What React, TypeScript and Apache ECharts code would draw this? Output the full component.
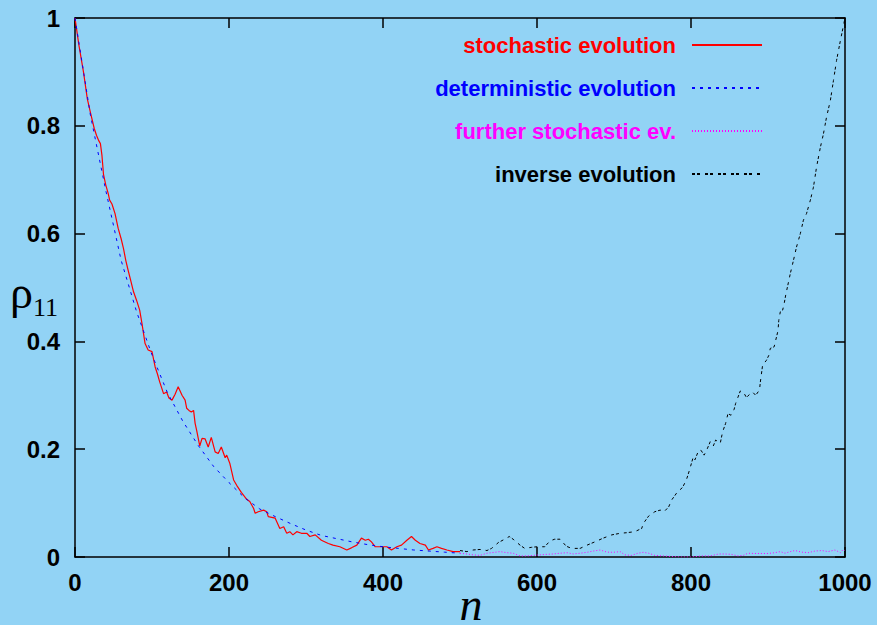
import React, { useEffect, useRef } from "react";
import * as echarts from "echarts";

// ---- data ----
const xTicks = [0, 200, 400, 600, 800, 1000];
const yTicks = [0, 0.2, 0.4, 0.6, 0.8, 1];

const seriesNames = [
  "stochastic evolution",
  "deterministic evolution",
  "further stochastic ev.",
  "inverse evolution",
];

const stochasticEvolution: [number, number][] = [
  [0, 1.0], [5, 0.95], [11, 0.9], [16, 0.85], [20, 0.825], [25, 0.795], [28, 0.782],
  [31, 0.772], [33, 0.767], [35, 0.745], [37, 0.71], [40, 0.69], [43, 0.675], [45, 0.662],
  [48, 0.655], [52, 0.637], [56, 0.61], [60, 0.59], [63, 0.572], [66, 0.55], [69, 0.532],
  [72, 0.515], [76, 0.492], [80, 0.476], [84, 0.458], [87, 0.433], [91, 0.396], [95, 0.384],
  [100, 0.381], [104, 0.353], [107, 0.34], [110, 0.325], [115, 0.303], [119, 0.306],
  [122, 0.295], [126, 0.291], [130, 0.302], [134, 0.316], [139, 0.3], [143, 0.291],
  [145, 0.276], [148, 0.272], [151, 0.269], [154, 0.272], [156, 0.248], [158, 0.235],
  [162, 0.206], [165, 0.22], [169, 0.219], [173, 0.204], [177, 0.222], [182, 0.195],
  [186, 0.192], [190, 0.204], [195, 0.184], [197, 0.189], [201, 0.174], [206, 0.143],
  [210, 0.133], [216, 0.12], [223, 0.107], [227, 0.103], [232, 0.09], [234, 0.081],
  [238, 0.084], [245, 0.087], [249, 0.084], [251, 0.075], [260, 0.072], [266, 0.053],
  [271, 0.056], [275, 0.044], [279, 0.047], [283, 0.041], [288, 0.047], [294, 0.044],
  [301, 0.044], [305, 0.038], [312, 0.041], [320, 0.031], [329, 0.025], [335, 0.022],
  [344, 0.019], [353, 0.013], [359, 0.017], [366, 0.022], [372, 0.035], [377, 0.031],
  [381, 0.033], [385, 0.028], [390, 0.019], [398, 0.019], [405, 0.019], [411, 0.013],
  [418, 0.019], [424, 0.022], [431, 0.031], [437, 0.038], [442, 0.031], [448, 0.025],
  [455, 0.022], [459, 0.013], [465, 0.016], [470, 0.019], [476, 0.016], [483, 0.013],
  [491, 0.01], [500, 0.01],
];

const deterministicEvolution: [number, number][] = [
  [0, 1.0], [20, 0.82], [40, 0.68], [60, 0.55], [80, 0.455], [100, 0.375], [120, 0.305],
  [140, 0.252], [160, 0.207], [180, 0.168], [200, 0.138], [220, 0.11], [240, 0.089],
  [260, 0.075], [280, 0.062], [300, 0.05], [320, 0.04], [340, 0.034], [360, 0.028],
  [380, 0.023], [400, 0.019], [420, 0.016], [440, 0.013], [460, 0.011], [480, 0.009],
  [500, 0.007],
];

const furtherStochastic: [number, number][] = [
  [500, 0.007], [509, 0.0056], [517, 0.004], [526, 0.003], [535, 0.007], [545, 0.0087],
  [552, 0.01], [561, 0.008], [569, 0.007], [578, 0.002], [587, 0.002], [595, 0.003],
  [604, 0.004], [613, 0.005], [621, 0.0056], [630, 0.007], [639, 0.008], [647, 0.0056],
  [656, 0.007], [665, 0.0087], [673, 0.011], [682, 0.013], [691, 0.009], [699, 0.0087],
  [708, 0.01], [714, 0.004], [723, 0.003], [731, 0.007], [738, 0.0087], [745, 0.007],
  [753, 0.003], [764, 0.002], [773, 0.001], [786, 0.0], [800, 0.0], [814, 0.002],
  [825, 0.002], [836, 0.0056], [844, 0.0056], [852, 0.005], [861, 0.002], [868, 0.003],
  [874, 0.007], [883, 0.0065], [891, 0.0065], [900, 0.0065], [909, 0.008], [916, 0.01],
  [922, 0.007], [929, 0.01], [935, 0.012], [944, 0.009], [952, 0.008], [961, 0.011],
  [970, 0.012], [978, 0.01], [987, 0.013], [994, 0.008], [997, 0.013], [1000, 0.012],
];

const inverseEvolution: [number, number][] = [
  [500, 0.012], [509, 0.01], [517, 0.013], [526, 0.014], [535, 0.012], [541, 0.016],
  [550, 0.027], [558, 0.033], [564, 0.038], [569, 0.033], [578, 0.022], [584, 0.016],
  [593, 0.018], [600, 0.019], [610, 0.019], [617, 0.03], [623, 0.033], [630, 0.033],
  [638, 0.02], [645, 0.016], [656, 0.016], [665, 0.022], [675, 0.028], [686, 0.035],
  [697, 0.041], [708, 0.044], [716, 0.045], [727, 0.047], [736, 0.053], [738, 0.062],
  [745, 0.076], [753, 0.084], [760, 0.087], [765, 0.084], [771, 0.093], [775, 0.106],
  [782, 0.12], [789, 0.129], [794, 0.143], [798, 0.161], [803, 0.186], [805, 0.18],
  [810, 0.198], [813, 0.198], [817, 0.189], [820, 0.197], [825, 0.214], [829, 0.206],
  [832, 0.217], [838, 0.211], [841, 0.232], [845, 0.248], [848, 0.266], [852, 0.263],
  [856, 0.274], [858, 0.285], [864, 0.308], [868, 0.306], [872, 0.296], [877, 0.303],
  [880, 0.306], [884, 0.3], [889, 0.31], [890, 0.324], [893, 0.356], [898, 0.365],
  [901, 0.374], [903, 0.387], [908, 0.39], [911, 0.408], [913, 0.42], [914, 0.439],
  [916, 0.455], [919, 0.458], [921, 0.47], [923, 0.486], [929, 0.526], [933, 0.55],
  [937, 0.575], [942, 0.6], [946, 0.625], [950, 0.637], [955, 0.662], [959, 0.686],
  [963, 0.723], [968, 0.76], [972, 0.785], [976, 0.816], [981, 0.847], [985, 0.884],
  [989, 0.921], [994, 0.958], [998, 0.986], [1000, 1.0],
];

const seriesColors = ["#ff0000", "#0000ff", "#ff00ff", "#000000"];

const BG = "#92d3f5";
const SANS = "Liberation Sans, Arial, sans-serif";
const SERIF = "Liberation Serif, Times New Roman, serif";

export default function App() {
  const ref = useRef<HTMLDivElement>(null);

  useEffect(() => {
    if (!ref.current) return;
    document.body.style.margin = "0";
    document.body.style.background = BG;
    const chart = echarts.init(ref.current, undefined, { renderer: "svg" });

    const axisLine = { show: true, onZero: false, lineStyle: { color: "#000", width: 1.5 } };
    const axisTick = { show: true, inside: true, length: 10, lineStyle: { color: "#000", width: 1.5 } };
    const label = {
      color: "#000", fontSize: 24, fontWeight: "bold" as const, fontFamily: SANS,
      formatter: (v: number) => String(v),
    };

    const xMin = xTicks[0];
    const xMax = xTicks[xTicks.length - 1];
    const xInt = xTicks[1] - xTicks[0];
    const yMin = yTicks[0];
    const yMax = yTicks[yTicks.length - 1];
    const yInt = yTicks[1] - yTicks[0];

    const dataSets = [stochasticEvolution, deterministicEvolution, furtherStochastic, inverseEvolution];
    const dashes: any[] = ["solid", [3, 5], [1, 2], [3, 2, 3, 5]];

    const option: any = {
      animation: false,
      backgroundColor: BG,
      grid: { left: 75, top: 18, width: 770, height: 539, outerBoundsMode: "none", containLabel: false },
      legend: {
        orient: "vertical",
        right: 114,
        top: 34,
        padding: 0,
        align: "right",
        itemWidth: 70,
        itemHeight: 14,
        itemGap: 21,
        itemStyle: { opacity: 0 },
        textStyle: { fontSize: 22, fontWeight: "bold", fontFamily: SANS, padding: [0, 11, 0, 0] },
        data: seriesNames.map((n, i) => ({ name: n, textStyle: { color: seriesColors[i] } })),
      },
      xAxis: [
        {
          type: "value", min: xMin, max: xMax, interval: xInt, position: "bottom",
          axisLine, axisTick, splitLine: { show: false },
          axisLabel: { ...label, margin: 13 },
          name: "n", nameLocation: "middle", nameGap: 32, nameMoveOverlap: false,
          nameTextStyle: {
            fontFamily: SERIF, fontStyle: "italic", fontSize: 46, lineHeight: 30,
            color: "#000", padding: [0, 0, 0, 22],
          },
        },
        {
          type: "value", min: xMin, max: xMax, interval: xInt, position: "top",
          axisLine, axisTick, splitLine: { show: false }, axisLabel: { show: false },
        },
      ],
      yAxis: [
        {
          type: "value", min: yMin, max: yMax, interval: yInt, position: "left",
          axisLine, axisTick, splitLine: { show: false },
          axisLabel: { ...label, margin: 15 },
          name: "{r|ρ}{s|11}", nameLocation: "middle", nameRotate: 0, nameGap: 17,
          nameMoveOverlap: false,
          nameTextStyle: {
            padding: [10, 0, 0, 0],
            rich: {
              r: { fontFamily: SERIF, fontSize: 46, lineHeight: 46, color: "#000" },
              s: { fontFamily: SERIF, fontSize: 26, lineHeight: 26, color: "#000", padding: [30, 0, 0, 0] },
            },
          },
        },
        {
          type: "value", min: yMin, max: yMax, interval: yInt, position: "right",
          axisLine, axisTick, splitLine: { show: false }, axisLabel: { show: false },
        },
      ],
      series: seriesNames.map((n, i) => ({
        name: n,
        type: "line",
        data: dataSets[i],
        symbol: "none",
        showSymbol: false,
        color: seriesColors[i],
        lineStyle: { color: seriesColors[i], width: i === 0 ? 1.2 : 1, type: dashes[i] },
      })),
    };

    chart.setOption(option);
    return () => chart.dispose();
  }, []);

  return <div ref={ref} style={{ width: 877, height: 625 }} />;
}
